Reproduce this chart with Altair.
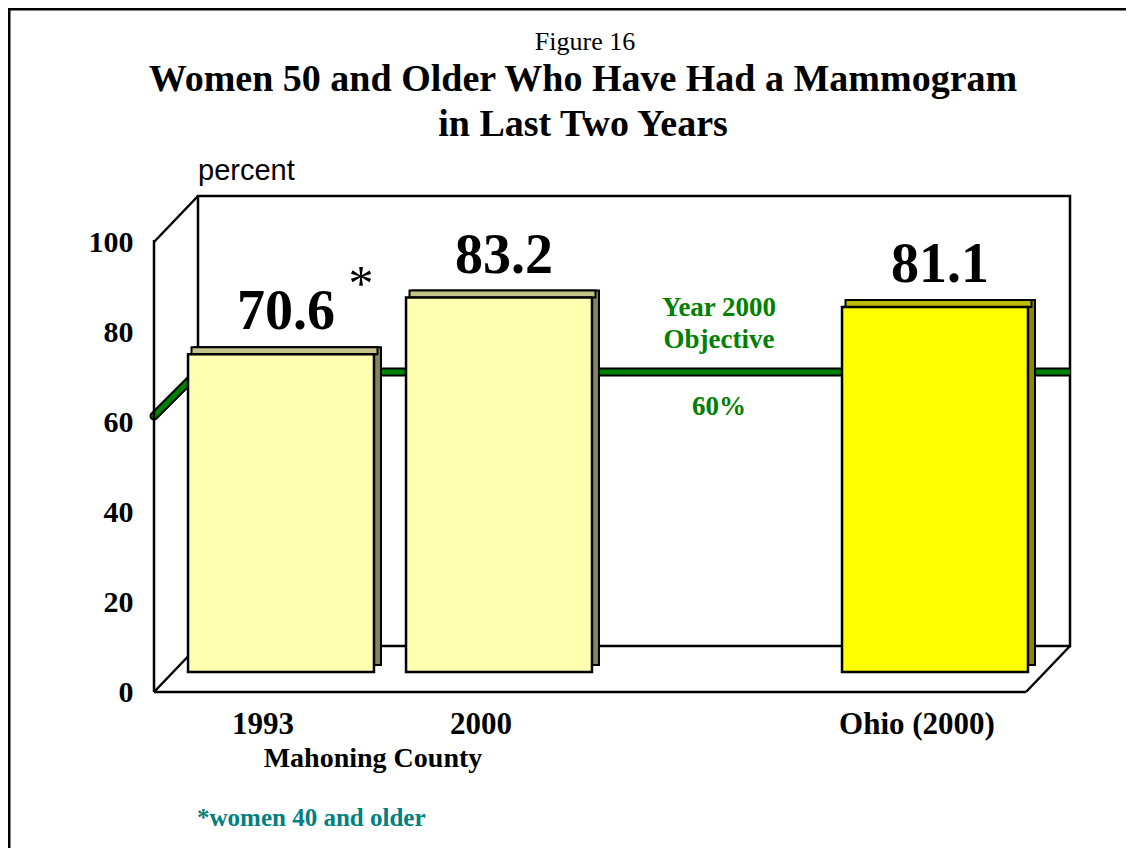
import altair as alt
import pandas as pd

# ---- data ----
categories = ["1993", "2000", "Ohio (2000)"]
values = [70.6, 83.2, 81.1]
regions = ["Mahoning County", "Mahoning County", "Ohio"]
notes = ["*", "", ""]
slots = ["1993", "2000", "gap", "Ohio (2000)"]
y_ticks = [0, 20, 40, 60, 80, 100]
objective = [60]

df = pd.DataFrame({"cat": categories, "value": values, "region": regions, "note": notes})
one = pd.DataFrame({"k": [0]})

# ---- style ----
SERIF = "Liberation Serif"
SANS = "Liberation Sans"
W, H = 872, 450
DX, DY = 44, -46      # depth of the 3D box
BX, BY = 18, -20      # bar position inside the box
TD = 7                # bar thickness
GREEN = "#008000"
TEAL = "#008080"

is_ohio = alt.datum.region == "Ohio"
front_fill = alt.condition(is_ohio, alt.value("#FFFF00"), alt.value("#FFFFB0"))
top_fill = alt.condition(is_ohio, alt.value("#BDBD00"), alt.value("#C4C48A"))
side_fill = alt.condition(is_ohio, alt.value("#8A8A00"), alt.value("#84845F"))

y_axis = alt.Axis(
    title=None, values=y_ticks, ticks=False, grid=False, domain=False, labelFont=SERIF,
    labelFontWeight="bold", labelFontSize=30, labelColor="black", labelPadding=21,
)

x_enc = alt.X(
    "cat:N",
    scale=alt.Scale(domain=slots, paddingInner=0.147, paddingOuter=0.0735),
    axis=alt.Axis(
        title=None, ticks=False, grid=False, domain=False, labelAngle=0, labelFont=SERIF,
        labelFontWeight="bold", labelFontSize=31, labelColor="black", labelPadding=17,
        labelExpr="datum.value == 'gap' ? '' : datum.value",
    ),
)
y_enc = alt.Y("value:Q", scale=alt.Scale(domain=[0, 100]), axis=y_axis)

# back wall (first layer: carries the y axis definition)
back_wall = alt.Chart(one).mark_rect(
    fill="white", stroke="black", strokeWidth=2.5,
    xOffset=DX, x2Offset=DX, yOffset=DY, y2Offset=DY,
).encode(
    x=alt.value(0), x2=alt.value(W),
    y=alt.YDatum(100, type="quantitative", scale=alt.Scale(domain=[0, 100]), axis=y_axis),
    y2=alt.datum(0),
)

# left wall / floor edges
edge_tl = alt.Chart(one).mark_rule(color="black", strokeWidth=2.5, y2Offset=DY).encode(
    x=alt.value(0), x2=alt.value(DX), y=alt.datum(100), y2=alt.datum(100))
edge_bl = alt.Chart(one).mark_rule(color="black", strokeWidth=2.5, y2Offset=DY).encode(
    x=alt.value(0), x2=alt.value(DX), y=alt.datum(0), y2=alt.datum(0))
edge_br = alt.Chart(one).mark_rule(color="black", strokeWidth=2.5, y2Offset=DY).encode(
    x=alt.value(W), x2=alt.value(W + DX), y=alt.datum(0), y2=alt.datum(0))
edge_front_left = alt.Chart(one).mark_rule(color="black", strokeWidth=2.5, yOffset=-2).encode(
    x=alt.value(0), y=alt.datum(100), y2=alt.datum(0))
edge_front_floor = alt.Chart(one).mark_rule(color="black", strokeWidth=2.5).encode(
    x=alt.value(0), x2=alt.value(W), y=alt.datum(0))

# objective line (front-left diagonal then along the back wall)
obj_df = pd.DataFrame({"obj": objective})
def obj_layers(color, width):
    diag = alt.Chart(obj_df).mark_rule(
        color=color, strokeWidth=width, strokeCap="round", yOffset=-6, y2Offset=-50
    ).encode(x=alt.value(0), x2=alt.value(DX), y="obj:Q", y2="obj:Q")
    horiz = alt.Chart(obj_df).mark_rule(
        color=color, strokeWidth=width, strokeCap="butt", yOffset=-50
    ).encode(x=alt.value(DX), x2=alt.value(W + DX), y="obj:Q")
    return diag, horiz

obj_b1, obj_b2 = obj_layers("black", 9)
obj_g1, obj_g2 = obj_layers(GREEN, 5)

base = alt.Chart(df)

side = base.mark_bar(
    stroke="black", strokeWidth=2,
    xOffset=BX + TD, x2Offset=BX + TD, yOffset=BY - TD, y2Offset=BY - TD,
).encode(x=x_enc, y=y_enc, fill=side_fill)

top = base.mark_bar(
    stroke="black", strokeWidth=2,
    xOffset=BX + TD / 2, x2Offset=BX + TD / 2, yOffset=BY - TD, y2Offset=BY,
).encode(x=x_enc, y=y_enc, y2="value:Q", fill=top_fill)

front = base.mark_bar(
    stroke="black", strokeWidth=2.5,
    xOffset=BX, x2Offset=BX, yOffset=BY, y2Offset=BY,
).encode(x=x_enc, y=y_enc, fill=front_fill)

labels = base.mark_text(
    font=SERIF, fontWeight="bold", fontSize=56, color="black",
    baseline="alphabetic", dx=BX + 5, dy=-45,
).encode(x=x_enc, y=y_enc, text=alt.Text("value:Q", format=".1f"))

asterisk = base.mark_text(
    font=SERIF, fontSize=50, color="black", baseline="alphabetic", dx=98, dy=-74,
).encode(x=x_enc, y=y_enc, text="note:N")

def obj_text(t, dy):
    return alt.Chart(one).mark_text(
        font=SERIF, fontWeight="bold", fontSize=27, color=GREEN,
        baseline="alphabetic", dx=20, dy=dy,
    ).encode(x=alt.datum("gap"), y=alt.datum(objective[0]), text=alt.value(t))

def free_text(t, xv, yv, size, weight="normal", font=SERIF, color="black", align="center"):
    return alt.Chart(one).mark_text(
        font=font, fontWeight=weight, fontSize=size, color=color,
        align=align, baseline="alphabetic",
    ).encode(x=alt.value(xv), y=alt.value(yv), text=alt.value(t))

texts = [
    free_text("Figure 16", 431, -192, 26),
    free_text("Women 50 and Older Who Have Had a Mammogram", 429, -151, 38, "bold"),
    free_text("in Last Two Years", 429, -106, 38, "bold"),
    free_text("percent", 44, -62, 29, font=SANS, align="left"),
    free_text("Mahoning County", 219, 525, 28, "bold"),
    free_text("*women 40 and older", 43, 584, 25, "bold", color=TEAL, align="left"),
    obj_text("Year 2000", -106),
    obj_text("Objective", -74),
    obj_text("60%", -7),
]

frame_left = alt.Chart(one).mark_rule(color="black", strokeWidth=3).encode(
    x=alt.value(-145), y=alt.value(-234), y2=alt.value(H + 156))
frame_top = alt.Chart(one).mark_rule(color="black", strokeWidth=3).encode(
    x=alt.value(-146), x2=alt.value(W + 100), y=alt.value(-233))

chart = alt.layer(
    back_wall, obj_b1, obj_b2, obj_g1, obj_g2, edge_tl, edge_bl, edge_br,
    edge_front_left, edge_front_floor,
    side, top, front, labels, asterisk, *texts, frame_left, frame_top,
).properties(
    width=W, height=H,
    background="white",
    autosize=alt.AutoSizeParams(type="none"),
    padding={"left": 146, "top": 234, "right": 100, "bottom": 156},
).configure_view(
    stroke="transparent", strokeWidth=0
).configure_axis(
    grid=False, ticks=False, domain=False, title=None, labelOverlap=False,
    labelFont=SERIF, labelFontWeight="bold", labelColor="black",
).configure_axisY(
    labelFontSize=30, labelPadding=21,
).configure_axisX(
    labelFontSize=31, labelPadding=17, labelAngle=0,
    labelExpr="datum.value == 'gap' ? '' : datum.value",
)

chart.save("out.html", embed_options={"renderer": "svg", "actions": False})
